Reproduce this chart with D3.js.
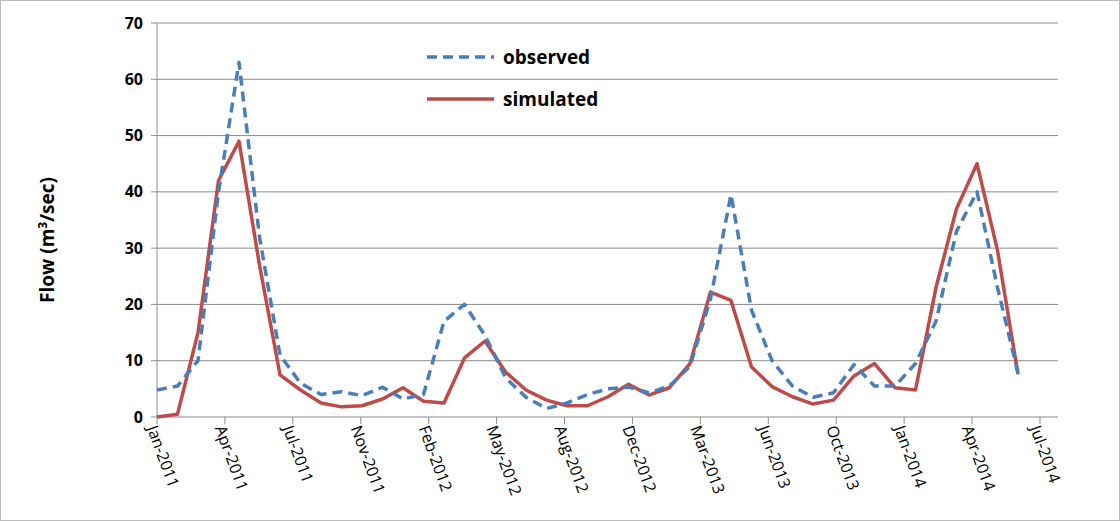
<!DOCTYPE html>
<html>
<head>
<meta charset="utf-8">
<script src="https://cdn.jsdelivr.net/npm/d3@7"></script>
<style>
  body { margin: 0; background: #fff; }
  text { font-family: "Open Sans", "DejaVu Sans", sans-serif; }
</style>
</head>
<body>
<div id="chart"></div>
<script>
// monthly flows, Jan-2011 .. Jul-2014
const observed = [4.8, 5.5, 10, 40, 63, 32, 11, 6, 4, 4.5, 3.8, 5.3, 3.2, 4, 17, 20, 14.5, 7, 3.5, 1.5, 2.5, 4,
  5, 5.3, 4.3, 5.5, 9, 21, 39.5, 19, 10, 5.5, 3.5, 4.3, 9.3, 5.5, 5.5, 9.5, 17, 33, 40, 23, 7.8];
const simulated = [0, 0.5, 15, 42, 49, 27, 7.5, 4.8, 2.5, 1.8, 2, 3.2, 5.2, 2.8, 2.5, 10.5, 13.5, 8, 4.8, 3, 2, 2,
  3.6, 5.8, 3.9, 5.2, 9.5, 22.2, 20.7, 8.9, 5.4, 3.6, 2.3, 3, 7.3, 9.5, 5.2, 4.8, 23, 37, 45, 29.6, 7.6];
const tickLabels = ["Jan-2011", "Apr-2011", "Jul-2011", "Nov-2011", "Feb-2012", "May-2012", "Aug-2012",
  "Dec-2012", "Mar-2013", "Jun-2013", "Oct-2013", "Jan-2014", "Apr-2014", "Jul-2014"];
const yTicks = [0, 10, 20, 30, 40, 50, 60, 70];

const width = 1120, height = 521;
const mLeft = 157, mRight = 1058, mTop = 23, mBottom = 417;

const svg = d3.select("#chart").append("svg")
  .attr("width", width).attr("height", height);

svg.append("rect").attr("x", 0.5).attr("y", 0.5)
  .attr("width", width - 1).attr("height", height - 1)
  .attr("fill", "none").attr("stroke", "#bbb");

const y = d3.scaleLinear().domain([0, 70]).range([mBottom, mTop]);
// data points are monthly; Jul-2014 tick sits a bit past the last point
const x = d3.scaleLinear().domain([0, 42]).range([mLeft, 1018]);
const xt = d3.scalePoint().domain(tickLabels).range([mLeft, 1040]);

// grid
svg.append("g").selectAll("line").data(yTicks.slice(1)).join("line")
  .attr("x1", mLeft).attr("x2", mRight)
  .attr("y1", d => y(d)).attr("y2", d => y(d))
  .attr("stroke", "#8c8c8c").attr("stroke-width", 1);

// y axis
svg.append("line").attr("x1", mLeft).attr("x2", mLeft).attr("y1", mTop).attr("y2", mBottom)
  .attr("stroke", "#8c8c8c");
svg.append("g").selectAll("line").data(yTicks).join("line")
  .attr("x1", mLeft - 6).attr("x2", mLeft).attr("y1", d => y(d)).attr("y2", d => y(d))
  .attr("stroke", "#8c8c8c");
svg.append("g").selectAll("text").data(yTicks).join("text")
  .attr("x", mLeft - 14).attr("y", d => y(d)).attr("dy", "0.35em")
  .attr("text-anchor", "end").attr("font-size", 16).attr("font-weight", "bold")
  .text(d => d);

// x axis
svg.append("line").attr("x1", mLeft).attr("x2", mRight).attr("y1", mBottom).attr("y2", mBottom)
  .attr("stroke", "#8c8c8c");
svg.append("g").selectAll("line").data(tickLabels).join("line")
  .attr("x1", d => xt(d)).attr("x2", d => xt(d)).attr("y1", mBottom).attr("y2", mBottom + 7)
  .attr("stroke", "#8c8c8c");
svg.append("g").selectAll("text").data(tickLabels).join("text")
  .attr("transform", d => `translate(${xt(d) - 5},${mBottom + 9}) rotate(70)`)
  .attr("dy", "0.35em").attr("font-size", 16)
  .text(d => d);

// y title
svg.append("text")
  .attr("transform", `translate(54,${(mTop + mBottom) / 2 + 20}) rotate(-90)`)
  .attr("text-anchor", "middle").attr("font-size", 19).attr("font-weight", "bold")
  .html('Flow (m<tspan dy="-7" font-size="12">3</tspan><tspan dy="7">/sec)</tspan>');

const line = d3.line().x((d, i) => x(i)).y(d => y(d));

svg.append("path").datum(simulated).attr("d", line)
  .attr("fill", "none").attr("stroke", "#be4b48").attr("stroke-width", 3.5)
  .attr("stroke-linejoin", "round");
svg.append("path").datum(observed).attr("d", line)
  .attr("fill", "none").attr("stroke", "#4a7ebb").attr("stroke-width", 3.5)
  .attr("stroke-dasharray", "10,6").attr("stroke-linejoin", "round");

// legend
const legend = [
  { name: "observed", color: "#4a7ebb", dash: "10,6", yy: 57 },
  { name: "simulated", color: "#be4b48", dash: null, yy: 99 }
];
const lg = svg.append("g").selectAll("g").data(legend).join("g");
lg.append("line").attr("x1", 427).attr("x2", 494)
  .attr("y1", d => d.yy).attr("y2", d => d.yy)
  .attr("stroke", d => d.color).attr("stroke-width", 3.5)
  .attr("stroke-dasharray", d => d.dash);
lg.append("text").attr("x", 503).attr("y", d => d.yy).attr("dy", "0.35em")
  .attr("font-size", 19).attr("font-weight", "bold").text(d => d.name);
</script>
</body>
</html>
